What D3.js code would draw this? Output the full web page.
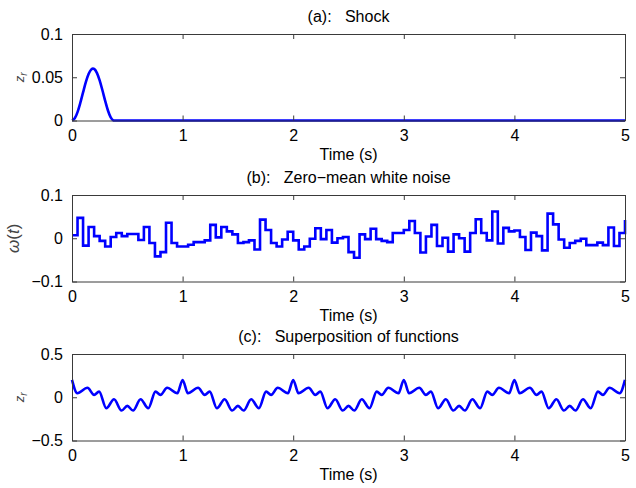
<!DOCTYPE html>
<html>
<head>
<meta charset="utf-8">
<script src="https://cdn.jsdelivr.net/npm/d3@7"></script>
<style>
  body { margin: 0; background: #fff; }
  text { font-family: "Liberation Sans", Arial, Helvetica, sans-serif; }
</style>
</head>
<body>
<div id="chart"></div>
<script>
const width = 636;
const height = 488;
const left = 72, right = 625, panelH = 86.5;
const fontSize = 16;

const xTicks = [0, 1, 2, 3, 4, 5];

// (a) shock bump
const shockT = [0, 0.025, 0.05, 0.075, 0.1, 0.125, 0.15, 0.175, 0.19, 0.2, 0.225, 0.25, 0.275, 0.3, 0.325, 0.35, 0.375, 0.38, 5];
const shockZ = [0, 0.0025, 0.0097, 0.0203, 0.0325, 0.0443, 0.0537, 0.0591, 0.06, 0.0596, 0.0551, 0.0464, 0.035, 0.0227, 0.0116, 0.0036, 0.0001, 0, 0];

// (b) white noise, one value per 0.05 s step (last value at t = 5)
const noiseStep = 0.05;
const noiseW = [
  0.007, 0.047, -0.017, 0.026, 0.005, -0.006, -0.019, 0.003, 0.012, 0.005,
  0.010, 0.010, -0.004, 0.026, -0.011, -0.042, -0.032, 0.036, -0.011, -0.019,
  -0.019, -0.015, -0.009, -0.009, -0.005, 0.031, 0.002, 0.026, 0.016, 0.009,
  -0.011, -0.009, -0.005, -0.026, 0.043, 0.019, -0.011, -0.019, -0.003, 0.015,
  -0.005, -0.026, -0.019, -0.001, 0.023, -0.002, 0.019, -0.010, 0.000, 0.003,
  -0.032, -0.045, 0.009, -0.002, 0.022, -0.002, -0.006, -0.009, 0.012, 0.012,
  0.019, 0.040, 0.012, -0.033, 0.004, 0.031, -0.018, 0.001, -0.031, 0.009,
  0.000, -0.031, 0.012, 0.044, 0.012, -0.005, 0.062, -0.012, 0.024, 0.016,
  0.018, 0.003, -0.027, 0.013, 0.005, -0.028, 0.057, 0.032, -0.003, -0.022,
  -0.011, -0.006, -0.001, -0.016, -0.016, -0.010, -0.016, 0.025, -0.018, 0.012,
  0.042
];

// (c) superposition: peaks and troughs
const superT = [
  0, 0.048, 0.14, 0.2, 0.245, 0.31, 0.38, 0.448, 0.5, 0.552, 0.62, 0.69, 0.755, 0.8, 0.86, 0.952,
  1, 1.048, 1.14, 1.2, 1.245, 1.31, 1.38, 1.448, 1.5, 1.552, 1.62, 1.69, 1.755, 1.8, 1.86, 1.952,
  2, 2.048, 2.14, 2.2, 2.245, 2.31, 2.38, 2.448, 2.5, 2.552, 2.62, 2.69, 2.755, 2.8, 2.86, 2.952,
  3, 3.048, 3.14, 3.2, 3.245, 3.31, 3.38, 3.448, 3.5, 3.552, 3.62, 3.69, 3.755, 3.8, 3.86, 3.952,
  4, 4.048, 4.14, 4.2, 4.245, 4.31, 4.38, 4.448, 4.5, 4.552, 4.62, 4.69, 4.755, 4.8, 4.86, 4.952,
  5
];
const superZ = [
  0.2, 0.046, 0.11, 0.027, 0.065, -0.127, -0.023, -0.154, -0.1, -0.154, -0.023, -0.127, 0.065, 0.027, 0.11, 0.046,
  0.2, 0.046, 0.11, 0.027, 0.065, -0.127, -0.023, -0.154, -0.1, -0.154, -0.023, -0.127, 0.065, 0.027, 0.11, 0.046,
  0.2, 0.046, 0.11, 0.027, 0.065, -0.127, -0.023, -0.154, -0.1, -0.154, -0.023, -0.127, 0.065, 0.027, 0.11, 0.046,
  0.2, 0.046, 0.11, 0.027, 0.065, -0.127, -0.023, -0.154, -0.1, -0.154, -0.023, -0.127, 0.065, 0.027, 0.11, 0.046,
  0.2, 0.046, 0.11, 0.027, 0.065, -0.127, -0.023, -0.154, -0.1, -0.154, -0.023, -0.127, 0.065, 0.027, 0.11, 0.046,
  0.2
];

const svg = d3.select("#chart")
  .append("svg")
  .attr("width", width)
  .attr("height", height);

const x = d3.scaleLinear().domain([0, 5]).range([left, right]);

function drawPanel(p) {
  const y = d3.scaleLinear().domain(p.yDomain).range([p.top + panelH, p.top]);
  const g = svg.append("g");

  // line first, box over it
  g.append("path")
    .datum(p.data)
    .attr("fill", "none")
    .attr("stroke", "#0000ff")
    .attr("stroke-width", 2.6)
    .attr("d", d3.line().x(d => x(d[0])).y(d => y(d[1])).curve(p.curve));

  const axisColor = "#3a3a3a";
  const fmt = d => d < 0 ? "\u2212" + Math.abs(d) : String(d);

  const ax = [
    d3.axisBottom(x).tickValues(xTicks).tickSizeInner(-5).tickSizeOuter(0).tickPadding(9).tickFormat(d3.format("d")),
    d3.axisTop(x).tickValues(xTicks).tickSizeInner(-5).tickSizeOuter(0).tickFormat(""),
    d3.axisLeft(y).tickValues(p.yTicks).tickSizeInner(-5).tickSizeOuter(0).tickPadding(9).tickFormat(fmt),
    d3.axisRight(y).tickValues(p.yTicks).tickSizeInner(-5).tickSizeOuter(0).tickFormat("")
  ];
  const pos = [
    `translate(0,${p.top + panelH})`, `translate(0,${p.top})`,
    `translate(${left},0)`, `translate(${right},0)`
  ];
  ax.forEach((a, i) => {
    const ag = g.append("g").attr("transform", pos[i]).call(a);
    ag.selectAll("path, line").attr("stroke", axisColor).attr("stroke-width", 1);
    ag.selectAll("text").attr("fill", "#000").attr("font-size", fontSize)
      .attr("font-family", '"Liberation Sans", Arial, sans-serif');
  });

  g.append("text")
    .attr("x", (left + right) / 2)
    .attr("y", p.top - 12)
    .attr("text-anchor", "middle")
    .attr("font-size", fontSize)
    .attr("xml:space", "preserve")
    .text(p.title);

  g.append("text")
    .attr("x", (left + right) / 2)
    .attr("y", p.top + panelH + 39)
    .attr("text-anchor", "middle")
    .attr("font-size", fontSize)
    .text("Time (s)");

  const yl = g.append("text")
    .attr("transform", `translate(${p.labelX},${p.top + panelH / 2}) rotate(-90)`)
    .attr("text-anchor", "middle")
    .attr("fill", "#444")
    .attr("font-family", '"Liberation Serif", "DejaVu Serif", serif');
  if (p.yLabel === "zr") {
    yl.attr("font-size", 13);
    yl.append("tspan").attr("font-style", "italic").text("z");
    yl.append("tspan").attr("font-style", "italic").attr("font-size", 10).attr("dy", 3).text("r");
  } else {
    yl.attr("font-size", 17);
    yl.append("tspan").attr("font-style", "italic").text("\u03C9");
    yl.append("tspan").text("(");
    yl.append("tspan").attr("font-style", "italic").text("t");
    yl.append("tspan").text(")");
  }
}

drawPanel({
  top: 34, yDomain: [0, 0.1], yTicks: [0, 0.05, 0.1],
  title: "(a):   Shock", yLabel: "zr", labelX: 24,
  data: shockT.map((t, i) => [t, shockZ[i]]), curve: d3.curveMonotoneX
});

drawPanel({
  top: 195, yDomain: [-0.1, 0.1], yTicks: [-0.1, 0, 0.1],
  title: "(b):   Zero\u2212mean white noise", yLabel: "w", labelX: 19,
  data: noiseW.map((w, i) => [i * noiseStep, w]), curve: d3.curveStepAfter
});

drawPanel({
  top: 354, yDomain: [-0.5, 0.5], yTicks: [-0.5, 0, 0.5],
  title: "(c):   Superposition of functions", yLabel: "zr", labelX: 24,
  data: superT.map((t, i) => [t, superZ[i]]), curve: d3.curveMonotoneX
});
</script>
</body>
</html>
